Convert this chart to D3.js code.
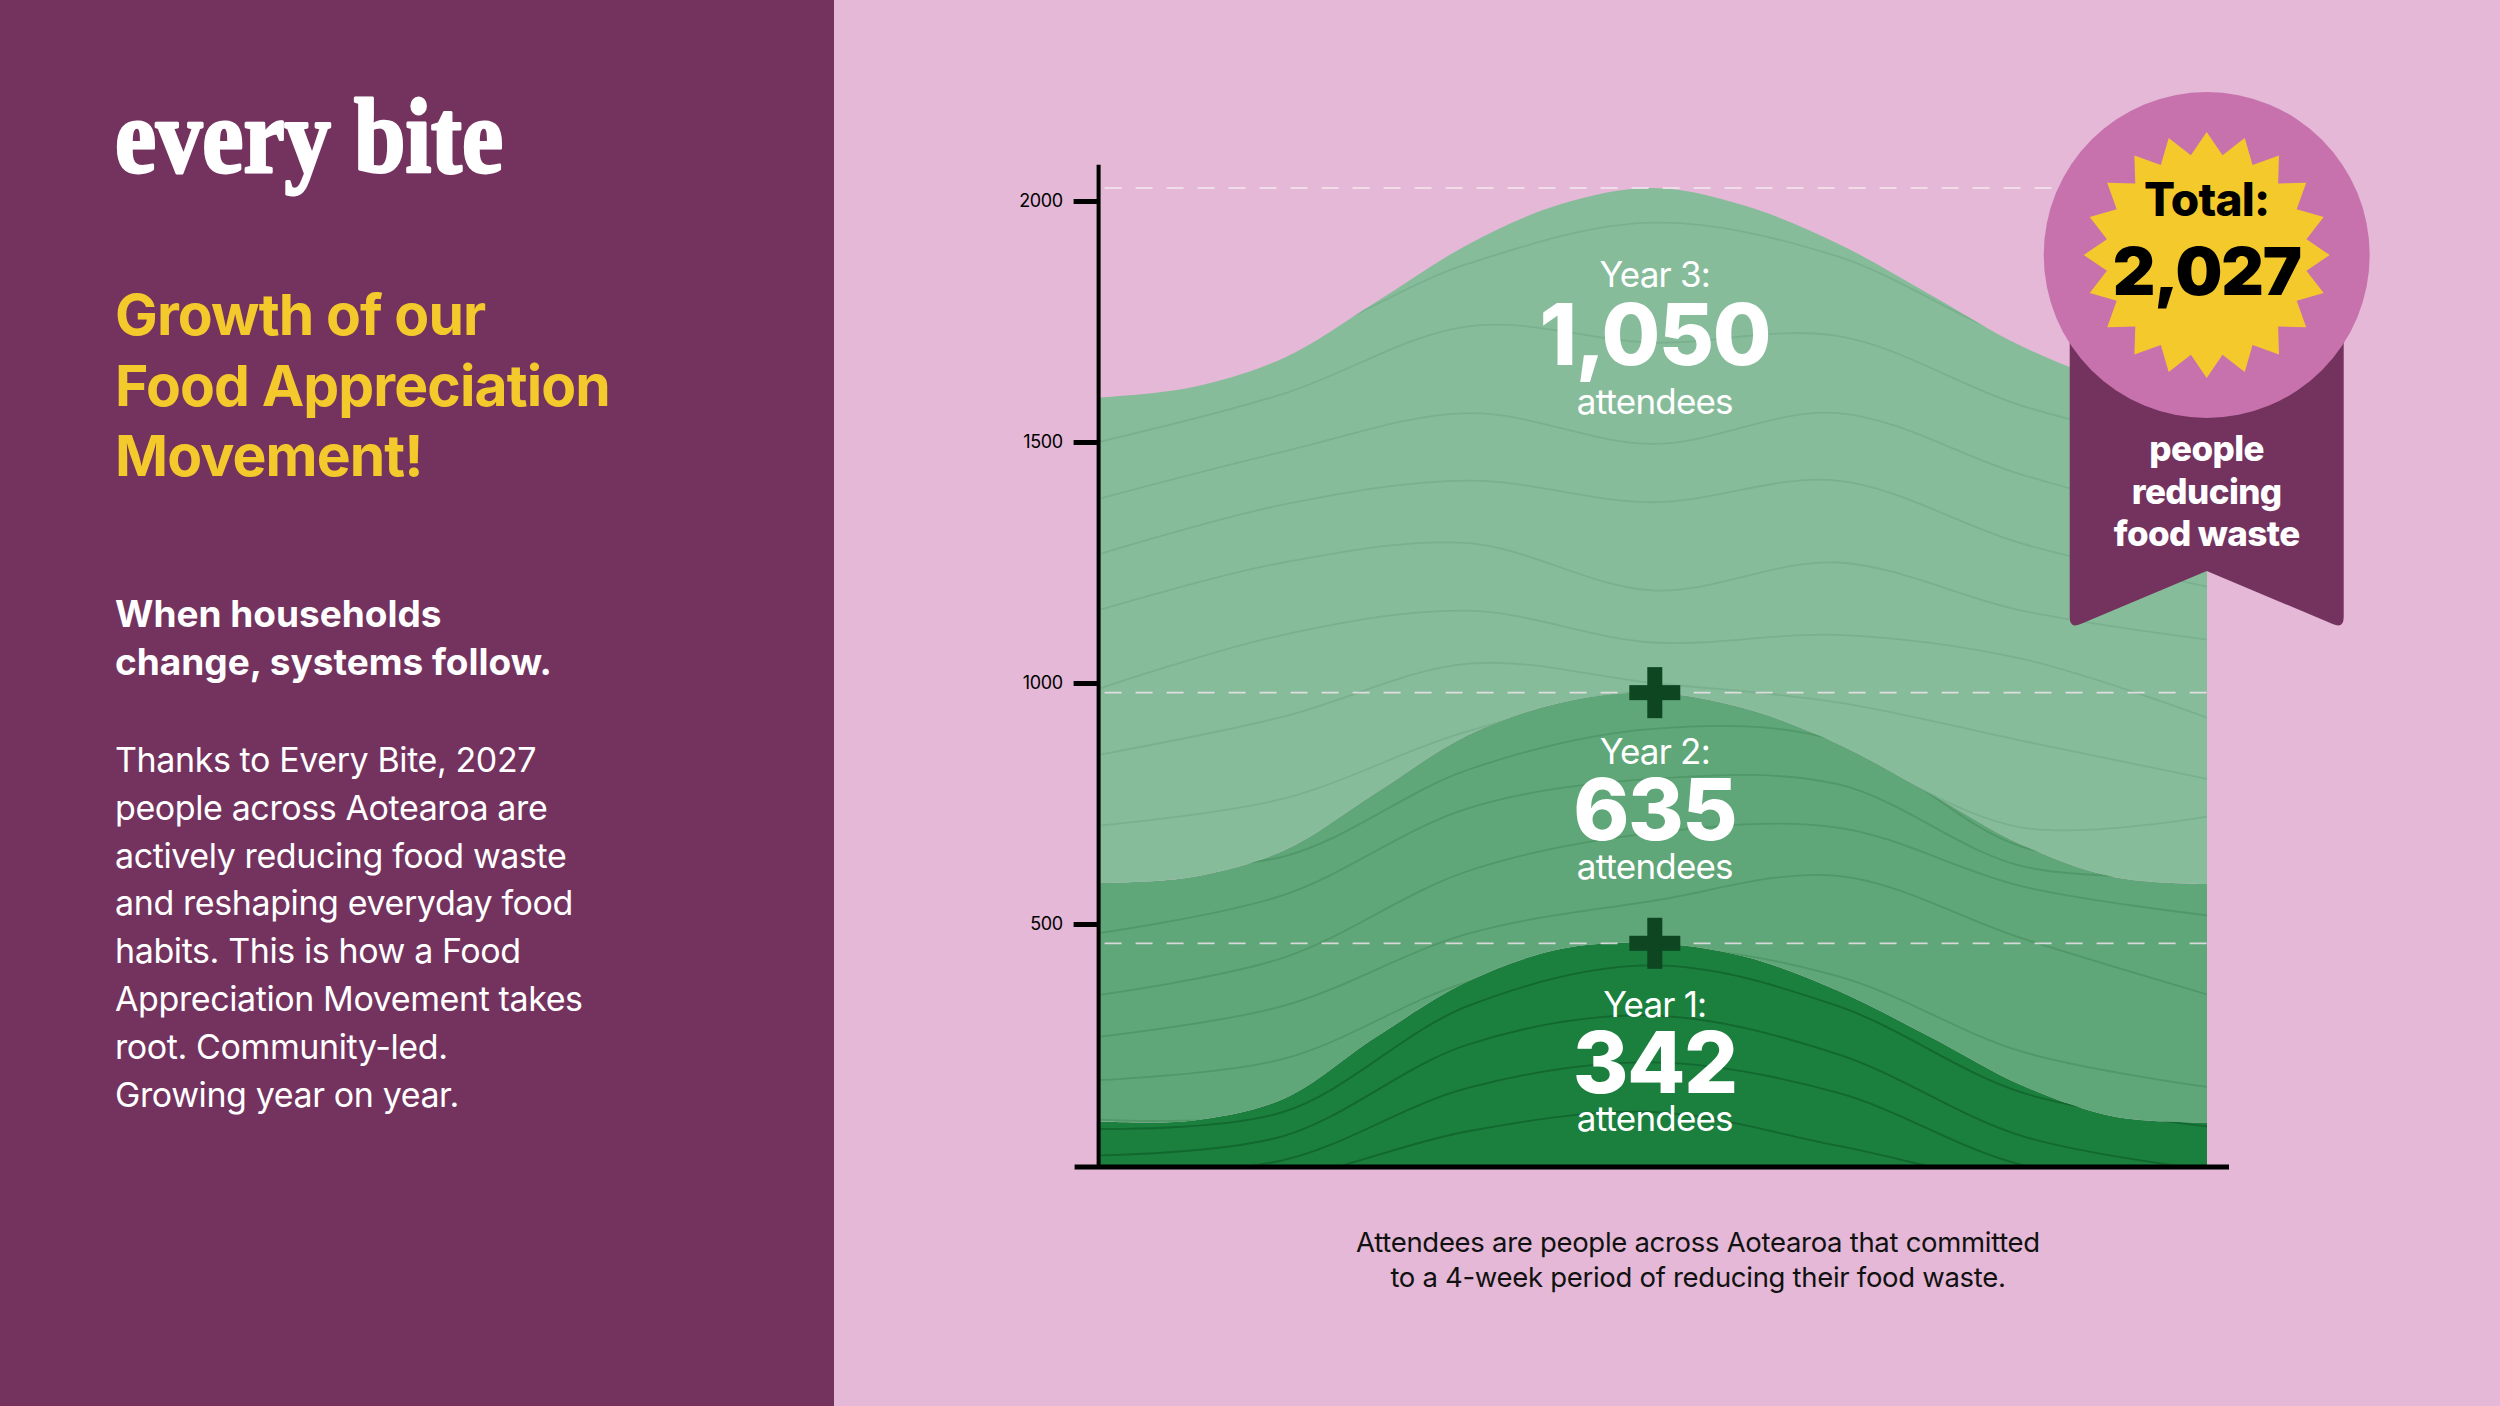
<!DOCTYPE html>
<html>
<head>
<meta charset="utf-8">
<script src="https://cdn.jsdelivr.net/npm/d3@7"></script>
<style>
  body { margin: 0; background: #e4b8d6; }
  svg { display: block; }
</style>
</head>
<body>
<div class="canvas"></div>
<script>
const W = 2500, H = 1406;

// ---- data ----
const years = ["Year 1:", "Year 2:", "Year 3:"];
const attendees = ["342", "635", "1,050"];
const totalLabel = "2,027";
const yTicks = [500, 1000, 1500, 2000];

// 13 evenly spaced steps across the chart
const steps = [0, 1, 2, 3, 4, 5, 6, 7, 8, 9, 10, 11, 12];
// thickness of each year's band at every step
const year1Band = [90, 92, 137, 265, 381, 448, 460, 432, 362, 266, 165, 100, 88];
const year2Band = [495, 505, 515, 507, 511, 511, 520, 515, 512, 505, 499, 497, 495];
const year3Band = [1007, 1016, 1022, 1018, 1018, 1034, 1047, 1043, 1038, 1035, 1034, 1028, 1013];

// the thin "contour" lines inside each band (values at every second step)
const contourSteps = [0, 2, 4, 6, 8, 10, 12];
const year1Contours = [
  [75, 110, 330, 414, 330, 150, 80],
  [20, 60, 250, 310, 230, 60, -10],
  [-20, 10, 160, 213, 150, 0, -40],
  [-60, -30, 70, 110, 40, -40, -60]
];
const year2Contours = [
  [620, 640, 820, 905, 880, 660, 630],
  [481, 560, 740, 801, 790, 620, 600],
  [353, 430, 610, 689, 700, 578, 518],
  [266, 330, 480, 548, 600, 470, 354],
  [176, 220, 380, 450, 392, 235, 162],
  [94, 110, 270, 400, 290, 120, 60]
];
const year3Contours = [
  [1700, 1710, 1870, 1955, 1885, 1711, 1640],
  [1500, 1600, 1740, 1706, 1720, 1575, 1480],
  [1382, 1480, 1560, 1496, 1560, 1432, 1330],
  [1267, 1370, 1420, 1375, 1420, 1289, 1200],
  [1151, 1250, 1290, 1192, 1250, 1150, 1090],
  [988, 1100, 1150, 1084, 1100, 1050, 928],
  [851, 930, 1040, 1000, 960, 880, 801],
  [704, 760, 900, 980, 860, 700, 723]
];

const titleLines = ["Growth of our", "Food Appreciation", "Movement!"];
const subLines = ["When households", "change, systems follow."];
const introLines = [
  "Thanks to Every Bite, 2027",
  "people across Aotearoa are",
  "actively reducing food waste",
  "and reshaping everyday food",
  "habits. This is how a Food",
  "Appreciation Movement takes",
  "root. Community-led.",
  "Growing year on year."
];
const ribbonLines = ["people", "reducing", "food waste"];
const captionLines = [
  "Attendees are people across Aotearoa that committed",
  "to a 4-week period of reducing their food waste."
];

// ---- look ----
const purple = "#74335f";
const pink = "#e4b8d6";
const yellow = "#f4c92b";
const bandFill = ["#1b7f3e", "#5fa678", "#87bc9b"];
const contourStroke = ["#12682f", "#519868", "#79b08d"];
const sans = "Inter, 'Noto Sans', sans-serif";

const svg = d3.select(".canvas").append("svg")
  .attr("width", W)
  .attr("height", H);

svg.append("rect").attr("width", W).attr("height", H).attr("fill", pink);

// ---- left panel ----
svg.append("rect").attr("width", 834).attr("height", H).attr("fill", purple);

svg.append("text")
  .attr("x", 115).attr("y", 172)
  .attr("fill", "#fff")
  .attr("stroke", "#fff").attr("stroke-width", 3)
  .attr("stroke-linejoin", "round")
  .attr("font-family", "'Liberation Serif', 'DejaVu Serif', serif")
  .attr("font-weight", 700)
  .attr("font-size", 106)
  .attr("textLength", 388)
  .attr("lengthAdjust", "spacingAndGlyphs")
  .text("every bite");

svg.append("g").selectAll("text")
  .data(titleLines)
  .join("text")
  .attr("x", 115)
  .attr("y", (d, i) => 335 + i * 70.5)
  .attr("fill", yellow)
  .attr("font-family", sans)
  .attr("font-weight", 700)
  .attr("font-size", 57)
  .attr("letter-spacing", -0.9)
  .text(d => d);

svg.append("g").selectAll("text")
  .data(subLines)
  .join("text")
  .attr("x", 115)
  .attr("y", (d, i) => 627 + i * 48)
  .attr("fill", "#fff")
  .attr("font-family", sans)
  .attr("font-weight", 700)
  .attr("font-size", 37)
  .attr("letter-spacing", 0)
  .text(d => d);

svg.append("g").selectAll("text")
  .data(introLines)
  .join("text")
  .attr("x", 115)
  .attr("y", (d, i) => 772 + i * 47.8)
  .attr("fill", "#fff")
  .attr("font-family", sans)
  .attr("font-weight", 400)
  .attr("font-size", 34)
  .attr("letter-spacing", -0.4)
  .text(d => d);

// ---- chart ----
const x = d3.scaleLinear().domain([0, 12]).range([1098.6, 2207]);
const y = d3.scaleLinear().domain([0, 2000]).range([1165, 201]);

const table = steps.map((s, i) => ({ step: s, y1: year1Band[i], y2: year2Band[i], y3: year3Band[i] }));
const series = d3.stack().keys(["y1", "y2", "y3"])(table);

const area = d3.area()
  .x(d => x(d.data.step))
  .y0(d => y(d[0]))
  .y1(d => y(d[1]))
  .curve(d3.curveCatmullRom.alpha(0.5));

const defs = svg.append("defs");
series.forEach((s, i) => {
  defs.append("clipPath").attr("id", "band-" + i)
    .append("path").attr("d", area(s));
});

const chart = svg.append("g");

chart.selectAll("path.band")
  .data(series)
  .join("path")
  .attr("class", "band")
  .attr("fill", (d, i) => bandFill[i])
  .attr("d", area);

const contourLine = d3.line()
  .x((d, i) => x(contourSteps[i]))
  .y(d => y(d))
  .curve(d3.curveCatmullRom);

[year1Contours, year2Contours, year3Contours].forEach((lines, i) => {
  chart.append("g")
    .attr("clip-path", "url(#band-" + i + ")")
    .selectAll("path")
    .data(lines)
    .join("path")
    .attr("fill", "none")
    .attr("stroke", contourStroke[i])
    .attr("stroke-width", 1.8)
    .attr("d", contourLine);
});

// dashed line + plus at each band's peak
const peaks = series.map(s => d3.max(s, d => d[1]));

chart.selectAll("line.peak")
  .data(peaks)
  .join("line")
  .attr("class", "peak")
  .attr("x1", x(0) + 6)
  .attr("x2", x(12))
  .attr("y1", d => y(d))
  .attr("y2", d => y(d))
  .attr("stroke", "#f4e6ef")
  .attr("stroke-opacity", 0.8)
  .attr("stroke-width", 1.8)
  .attr("stroke-dasharray", "17,14");

const plus = chart.selectAll("g.plus")
  .data(peaks.slice(0, 2))
  .join("g")
  .attr("class", "plus")
  .attr("transform", d => `translate(${x(6) + 2},${y(d)})`);
plus.append("rect").attr("x", -7.5).attr("y", -25.5).attr("width", 15).attr("height", 51).attr("fill", "#0e4621");
plus.append("rect").attr("x", -25.5).attr("y", -7.5).attr("width", 51).attr("height", 15).attr("fill", "#0e4621");

// year labels
const labelTop = [1017, 764, 287];
const numberGap = [76, 76, 78];
const unitGap = [114, 115, 127];

years.forEach((yr, i) => {
  const g = chart.append("g")
    .attr("text-anchor", "middle")
    .attr("fill", "#fff")
    .attr("font-family", sans);
  g.append("text")
    .attr("x", x(6) + 2).attr("y", labelTop[i])
    .attr("font-size", 35).attr("letter-spacing", -0.8)
    .text(yr);
  g.append("text")
    .attr("x", x(6) + 2).attr("y", labelTop[i] + numberGap[i])
    .attr("font-size", 85).attr("font-weight", 800).attr("letter-spacing", -1.5)
    .text(attendees[i]);
  g.append("text")
    .attr("x", x(6) + 2).attr("y", labelTop[i] + unitGap[i])
    .attr("font-size", 35).attr("letter-spacing", -0.8)
    .text("attendees");
});

// axes
const yAxis = d3.axisLeft(y)
  .tickValues(yTicks)
  .tickSize(25)
  .tickSizeOuter(0)
  .tickPadding(11)
  .tickFormat(d3.format("d"));

const axisG = svg.append("g")
  .attr("transform", `translate(${x(0)},0)`)
  .call(yAxis);
axisG.select(".domain").remove();
axisG.selectAll(".tick line").attr("stroke", "#000").attr("stroke-width", 5);
axisG.selectAll(".tick text")
  .attr("fill", "#000")
  .attr("font-family", sans)
  .attr("font-size", 18)
  .attr("letter-spacing", -0.4);

svg.append("line")
  .attr("x1", x(0)).attr("x2", x(0))
  .attr("y1", y(2075)).attr("y2", y(0) + 4)
  .attr("stroke", "#000").attr("stroke-width", 4);

svg.append("line")
  .attr("x1", x(0) - 24).attr("x2", x(12) + 22)
  .attr("y1", y(0) + 2).attr("y2", y(0) + 2)
  .attr("stroke", "#000").attr("stroke-width", 5);

// caption
svg.append("g").selectAll("text")
  .data(captionLines)
  .join("text")
  .attr("x", 1698)
  .attr("y", (d, i) => 1252 + i * 35)
  .attr("text-anchor", "middle")
  .attr("fill", "#111")
  .attr("font-family", sans)
  .attr("font-size", 27.5)
  .attr("letter-spacing", -0.3)
  .text(d => d);

// ---- total badge ----
const bx = 2206.7, by = 255;
const badge = svg.append("g").attr("transform", `translate(${bx},${by})`);

badge.append("path")
  .attr("fill", purple)
  .attr("d", "M-137,0 L137,0 L137,362 Q137,374 126,369 L0,316 L-126,369 Q-137,374 -137,362 Z");

badge.append("circle").attr("r", 163).attr("fill", "#c772ac");

const starPts = d3.range(40).map(k => {
  const a = -Math.PI / 2 + k * Math.PI / 20;
  const r = k % 2 === 0 ? 123 : 101;
  return [Math.cos(a) * r, Math.sin(a) * r];
});
badge.append("path")
  .attr("fill", yellow)
  .attr("d", d3.line()(starPts) + "Z");

badge.append("text")
  .attr("y", -39).attr("text-anchor", "middle")
  .attr("font-family", sans).attr("font-weight", 800)
  .attr("font-size", 46).attr("letter-spacing", -0.8)
  .attr("fill", "#000")
  .text("Total:");

badge.append("text")
  .attr("y", 40).attr("text-anchor", "middle")
  .attr("font-family", sans).attr("font-weight", 900)
  .attr("font-size", 66).attr("letter-spacing", -1.2)
  .attr("fill", "#000")
  .text(totalLabel);

badge.append("g").selectAll("text")
  .data(ribbonLines)
  .join("text")
  .attr("y", (d, i) => 206 + i * 42.5)
  .attr("text-anchor", "middle")
  .attr("font-family", sans).attr("font-weight", 800)
  .attr("font-size", 35).attr("letter-spacing", -0.6)
  .attr("fill", "#fff")
  .text(d => d);
</script>
</body>
</html>
